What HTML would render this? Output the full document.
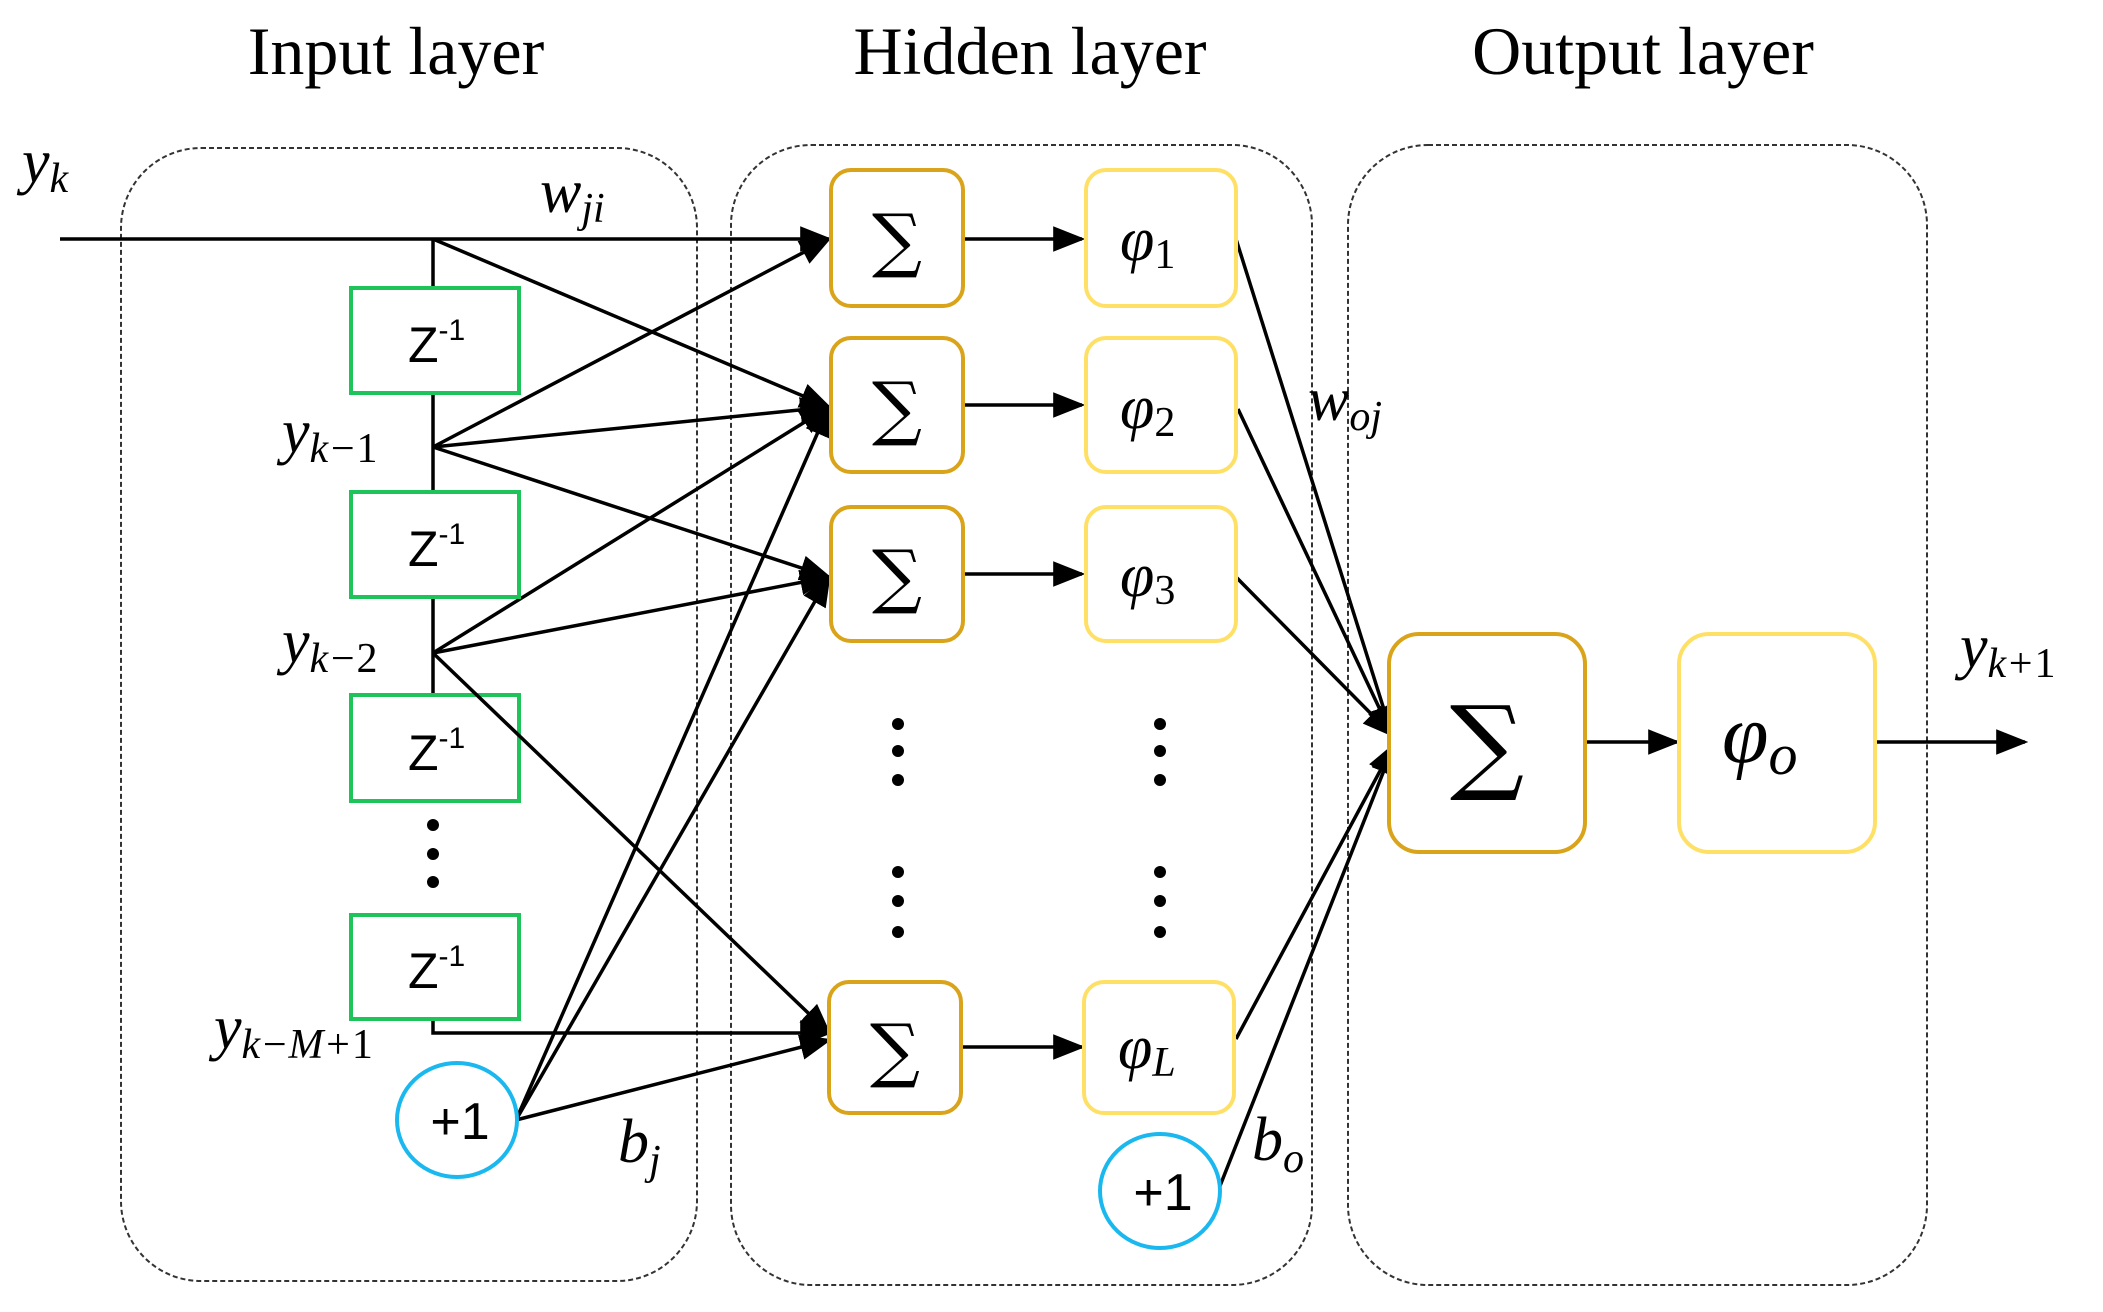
<!DOCTYPE html>
<html><head><meta charset="utf-8"><style>
html,body{margin:0;padding:0;background:#fff}
svg{display:block}
.t{font-family:"Liberation Serif",serif;font-size:68px;fill:#000}
.m{font-family:"Liberation Serif","DejaVu Serif",serif;font-style:italic;fill:#000}
.s{font-family:"Liberation Sans",sans-serif;fill:#000}
</style></head><body>
<svg width="2103" height="1312" viewBox="0 0 2103 1312" xmlns="http://www.w3.org/2000/svg">
<defs>
<marker id="ar" viewBox="0 0 10 10" refX="9" refY="5" markerWidth="32" markerHeight="32" markerUnits="userSpaceOnUse" orient="auto"><path d="M0,1 L10,5 L0,9 z" fill="#000"/></marker>
</defs>
<text class="t" x="396" y="74" text-anchor="middle">Input layer</text>
<text class="t" x="1030" y="74" text-anchor="middle">Hidden layer</text>
<text class="t" x="1643" y="74" text-anchor="middle">Output layer</text>
<g fill="none" stroke="#333" stroke-width="2" stroke-dasharray="5,3">
<rect x="121" y="148" width="576" height="1133" rx="80"/>
<rect x="731" y="145" width="581" height="1140" rx="80"/>
<rect x="1348" y="145" width="579" height="1140" rx="80"/>
</g>
<g stroke="#000" stroke-width="3.5" fill="none">
<line x1="60" y1="239" x2="829" y2="239" marker-end="url(#ar)"/>
<line x1="433" y1="239" x2="433" y2="801"/>
<polyline points="433,1019 433,1033 829,1033" marker-end="url(#ar)"/>
<line x1="433" y1="239" x2="829" y2="407" marker-end="url(#ar)"/>
<line x1="433" y1="447" x2="829" y2="239" marker-end="url(#ar)"/>
<line x1="433" y1="447" x2="829" y2="407" marker-end="url(#ar)"/>
<line x1="433" y1="447" x2="829" y2="577" marker-end="url(#ar)"/>
<line x1="433" y1="653" x2="829" y2="407" marker-end="url(#ar)"/>
<line x1="433" y1="653" x2="829" y2="577" marker-end="url(#ar)"/>
<line x1="516" y1="1120" x2="829" y2="407" marker-end="url(#ar)"/>
<line x1="516" y1="1120" x2="829" y2="577" marker-end="url(#ar)"/>
<line x1="516" y1="1120" x2="829" y2="1040" marker-end="url(#ar)"/>
<line x1="963" y1="239" x2="1082" y2="239" marker-end="url(#ar)"/>
<line x1="963" y1="405" x2="1082" y2="405" marker-end="url(#ar)"/>
<line x1="963" y1="574" x2="1082" y2="574" marker-end="url(#ar)"/>
<line x1="963" y1="1047" x2="1082" y2="1047" marker-end="url(#ar)"/>
<line x1="1236" y1="239" x2="1392" y2="735" marker-end="url(#ar)"/>
<line x1="1238" y1="409" x2="1392" y2="735" marker-end="url(#ar)"/>
<line x1="1236" y1="577" x2="1392" y2="735" marker-end="url(#ar)"/>
<line x1="1236" y1="1039" x2="1394" y2="745" marker-end="url(#ar)"/>
<line x1="1218" y1="1191" x2="1394" y2="745" marker-end="url(#ar)"/>
<line x1="1585" y1="742" x2="1677" y2="742" marker-end="url(#ar)"/>
<line x1="1875" y1="742" x2="2025" y2="742" marker-end="url(#ar)"/>
</g>
<g fill="#fff" stroke="#1ec45a" stroke-width="4">
<rect x="351" y="288" width="168" height="105"/>
<rect x="351" y="492" width="168" height="105"/>
<rect x="351" y="695" width="168" height="106"/>
<rect x="351" y="915" width="168" height="104"/>
</g>
<line x1="433" y1="653" x2="829" y2="1033" stroke="#000" stroke-width="3.5" marker-end="url(#ar)"/>
<g class="s" font-size="50">
<text x="408" y="362">Z<tspan font-size="30" dy="-22">-1</tspan></text>
<text x="408" y="566">Z<tspan font-size="30" dy="-22">-1</tspan></text>
<text x="408" y="770">Z<tspan font-size="30" dy="-22">-1</tspan></text>
<text x="408" y="988">Z<tspan font-size="30" dy="-22">-1</tspan></text>
</g>
<g fill="#fff" stroke="#d9a31a" stroke-width="4">
<rect x="831" y="170" width="132" height="136" rx="20"/>
<rect x="831" y="338" width="132" height="134" rx="20"/>
<rect x="831" y="507" width="132" height="134" rx="20"/>
<rect x="829" y="982" width="132" height="131" rx="20"/>
<rect x="1389" y="634" width="196" height="218" rx="30"/>
</g>
<g fill="#fff" stroke="#ffe066" stroke-width="4">
<rect x="1086" y="170" width="150" height="136" rx="20"/>
<rect x="1086" y="338" width="150" height="134" rx="20"/>
<rect x="1086" y="507" width="150" height="134" rx="20"/>
<rect x="1084" y="982" width="150" height="131" rx="20"/>
<rect x="1679" y="634" width="196" height="218" rx="30"/>
</g>
<g class="s" font-size="70" text-anchor="middle">
<text x="897" y="264" style="font-family:'DejaVu Serif',serif">∑</text>
<text x="897" y="432" style="font-family:'DejaVu Serif',serif">∑</text>
<text x="897" y="600" style="font-family:'DejaVu Serif',serif">∑</text>
<text x="895" y="1074" style="font-family:'DejaVu Serif',serif">∑</text>
<text x="1487" y="780" font-size="104" style="font-family:'DejaVu Serif',serif">∑</text>
</g>
<g class="m" font-size="62">
<text x="1120" y="260">φ<tspan font-size="42" dy="8" font-style="normal">1</tspan></text>
<text x="1120" y="428">φ<tspan font-size="42" dy="8" font-style="normal">2</tspan></text>
<text x="1120" y="596">φ<tspan font-size="42" dy="8" font-style="normal">3</tspan></text>
<text x="1118" y="1068">φ<tspan font-size="42" dy="8">L</tspan></text>
<text x="1722" y="762" font-size="84">φ<tspan font-size="58" dy="12">o</tspan></text>
</g>
<g fill="#000">
<circle cx="898" cy="724" r="6"/><circle cx="898" cy="751" r="6"/><circle cx="898" cy="780" r="6"/>
<circle cx="898" cy="872" r="6"/><circle cx="898" cy="901" r="6"/><circle cx="898" cy="932" r="6"/>
<circle cx="1160" cy="724" r="6"/><circle cx="1160" cy="751" r="6"/><circle cx="1160" cy="780" r="6"/>
<circle cx="1160" cy="872" r="6"/><circle cx="1160" cy="901" r="6"/><circle cx="1160" cy="932" r="6"/>
<circle cx="433" cy="825" r="6"/><circle cx="433" cy="854" r="6"/><circle cx="433" cy="882" r="6"/>
</g>
<g fill="#fff" stroke="#1ab8ee" stroke-width="4">
<ellipse cx="457" cy="1120" rx="60" ry="57"/>
<ellipse cx="1160" cy="1191" rx="60" ry="57"/>
</g>
<g class="s" font-size="52" text-anchor="middle">
<text x="460" y="1139">+1</text>
<text x="1163" y="1210">+1</text>
</g>
<g class="m" font-size="62">
<text x="22" y="182">y<tspan font-size="42" dy="10">k</tspan></text>
<text x="540" y="212">w<tspan font-size="42" dy="10">ji</tspan></text>
<text x="282" y="452">y<tspan font-size="42" dy="10">k−<tspan font-style="normal">1</tspan></tspan></text>
<text x="282" y="662">y<tspan font-size="42" dy="10">k−<tspan font-style="normal">2</tspan></tspan></text>
<text x="214" y="1048">y<tspan font-size="42" dy="10">k−M+<tspan font-style="normal">1</tspan></tspan></text>
<text x="618" y="1162">b<tspan font-size="42" dy="12">j</tspan></text>
<text x="1308" y="420">w<tspan font-size="42" dy="10">oj</tspan></text>
<text x="1252" y="1160">b<tspan font-size="42" dy="12">o</tspan></text>
<text x="1960" y="667">y<tspan font-size="42" dy="10">k+<tspan font-style="normal">1</tspan></tspan></text>
</g>
</svg>
</body></html>
